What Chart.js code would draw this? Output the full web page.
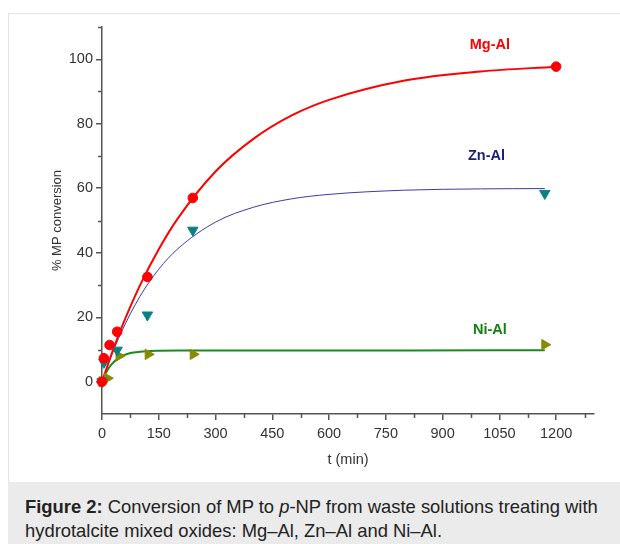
<!DOCTYPE html>
<html>
<head>
<meta charset="utf-8">
<script src="https://cdn.jsdelivr.net/npm/chart.js@4/dist/chart.umd.min.js"></script>
<style>
  body { margin: 0; background: #fff; font-family: "Liberation Sans", Arial, sans-serif; }
  #panel { position: absolute; left: 8px; top: 13px; width: 620px; height: 468px;
           border-top: 1px solid #e2e2e2; border-left: 1px solid #e2e2e2; }
  #wrap { position: absolute; left: 0; top: 0; width: 611px; height: 468px; }
  #caption { position: absolute; left: 8px; top: 482px; width: 612px; height: 62px;
             background: #ebebeb; color: #222; font-size: 18.4px; line-height: 24px;
             padding: 13px 0 0 17px; box-sizing: border-box; white-space: nowrap; }
</style>
</head>
<body>
<div id="panel"><div id="wrap"><canvas id="chart1"></canvas></div></div>
<div id="caption"><b>Figure 2:</b> Conversion of MP to <i>p</i>-NP from waste solutions treating with<br>hydrotalcite mixed oxides: Mg–Al, Zn–Al and Ni–Al.</div>
<script>
// measured points
const mgT = [0, 5, 20, 40, 120, 240, 1200];
const mgY = [0, 7.3, 11.4, 15.5, 32.5, 57, 97.7];
const znT = [0, 5, 40, 120, 240, 1170];
const znY = [0, 6, 9.8, 20.7, 47, 58.4];
const niT = [0, 14, 45, 122, 241, 1170];
const niY = [0, 1.1, 8, 8.5, 8.5, 11.5];

// fitted curves
const mgFitT = [0, 25, 50, 100, 150, 200, 300, 400, 500, 600, 800, 1000, 1200];
const mgFitY = [0, 8.5, 16.3, 29.8, 41.1, 50.6, 65.2, 75.3, 82.5, 87.4, 93.4, 96.2, 97.7];
const znFitT = [0, 25, 50, 100, 150, 200, 300, 400, 500, 600, 800, 1000, 1170];
const znFitY = [0, 8.1, 15.1, 26.4, 34.9, 41.2, 49.5, 54.1, 56.7, 58.1, 59.4, 59.8, 59.9];
const niFitT = [0, 10, 25, 50, 75, 100, 150, 200, 400, 800, 1170];
const niFitY = [0, 2.7, 5.4, 7.8, 8.9, 9.3, 9.6, 9.7, 9.7, 9.7, 9.8];

const xTicks = [0, 150, 300, 450, 600, 750, 900, 1050, 1200];
const xMinor = [75, 225, 375, 525, 675, 825, 975, 1125, 1275];
const yTicks = [0, 20, 40, 60, 80, 100];
const yMinor = [10, 30, 50, 70, 90, 110];

const seriesLabels = [
    { text: 'Mg-Al', t: 1025, y: 104.3, color: '#ff0000' },
    { text: 'Zn-Al', t: 1016, y: 70, color: '#1e1e7a' },
    { text: 'Ni-Al', t: 1025, y: 16, color: '#138013' }
];

const pts = (ts, ys) => ts.map((t, i) => ({ x: t, y: ys[i] }));
const axisColor = '#555';
const fam = '"Liberation Sans", Arial, sans-serif';
const tickFont = { family: fam, size: 14.5 };

// minor ticks and series names
const extras = {
    id: 'extras',
    afterDraw(chart) {
        const ctx = chart.ctx;
        const xs = chart.scales.x, ys = chart.scales.y;
        ctx.save();
        ctx.strokeStyle = axisColor;
        ctx.lineWidth = 1.5;
        ctx.beginPath();
        xMinor.forEach(v => {
            const px = Math.round(xs.getPixelForValue(v)) + 0.5;
            ctx.moveTo(px, xs.top);
            ctx.lineTo(px, xs.top + 4);
        });
        yMinor.forEach(v => {
            const py = Math.round(ys.getPixelForValue(v)) + 0.5;
            ctx.moveTo(ys.right, py);
            ctx.lineTo(ys.right - 4, py);
        });
        ctx.stroke();
        ctx.font = 'bold 14.5px ' + fam;
        ctx.textAlign = 'center';
        ctx.textBaseline = 'middle';
        seriesLabels.forEach(l => {
            ctx.fillStyle = l.color;
            ctx.fillText(l.text, xs.getPixelForValue(l.t), ys.getPixelForValue(l.y));
        });
        ctx.restore();
    }
};

function curve(data, color, width) {
    return { data: data, showLine: true, borderColor: color, borderWidth: width, clip: false,
             pointRadius: 0, cubicInterpolationMode: 'monotone', fill: false };
}
function marks(data, color, style, rot, r) {
    return { data: data, showLine: false, pointStyle: style, rotation: rot, pointRadius: r,
             backgroundColor: color, borderColor: color, borderWidth: 1, clip: false };
}

document.addEventListener("DOMContentLoaded", function () {
    const ctx1 = document.getElementById('chart1').getContext('2d');
    new Chart(ctx1, {
        type: 'scatter',
        data: {
            datasets: [
                marks(pts(mgT, mgY), '#ff0000', 'circle', 0, 4.8),
                marks(pts(znT, znY), '#0b8080', 'triangle', 180, 6),
                marks(pts(niT, niY), '#8a8a00', 'triangle', 90, 6),
                curve(pts(mgFitT, mgFitY), '#ff0000', 2),
                curve(pts(znFitT, znFitY), '#3b3ba6', 1),
                curve(pts(niFitT, niFitY), '#1a8c1a', 2)
            ]
        },
        options: {
            responsive: true,
            maintainAspectRatio: false,
            animation: false,
            layout: { padding: { left: 36, top: 13, right: 26, bottom: 0 } },
            plugins: { legend: { display: false }, tooltip: { enabled: false } },
            scales: {
                x: {
                    type: 'linear', min: 0, max: 1300,
                    afterBuildTicks: s => { s.ticks = xTicks.map(v => ({ value: v })); },
                    afterFit: s => { s.height = 68; },
                    border: { display: true, color: axisColor, width: 1.5 },
                    grid: { drawOnChartArea: false, drawTicks: true, tickLength: 6, color: axisColor, lineWidth: 1.5 },
                    ticks: { color: '#333', font: tickFont, padding: 5, maxRotation: 0, callback: v => String(v) },
                    title: { display: true, text: 't (min)', color: '#333', font: { family: fam, size: 14.5 }, padding: { top: 0, bottom: 13 } }
                },
                y: {
                    type: 'linear', min: -10, max: 110,
                    afterBuildTicks: s => { s.ticks = yTicks.map(v => ({ value: v })); },
                    afterFit: s => { s.width = 57; },
                    border: { display: true, color: axisColor, width: 1.5 },
                    grid: { drawOnChartArea: false, drawTicks: true, tickLength: 6, color: axisColor, lineWidth: 1.5 },
                    ticks: { color: '#333', font: tickFont, padding: 3, callback: v => String(v) },
                    title: { display: true, text: '% MP conversion', color: '#333', font: { family: fam, size: 13 }, padding: { top: 5, bottom: 0 } }
                }
            }
        },
        plugins: [extras]
    });
});
</script>
</body>
</html>
